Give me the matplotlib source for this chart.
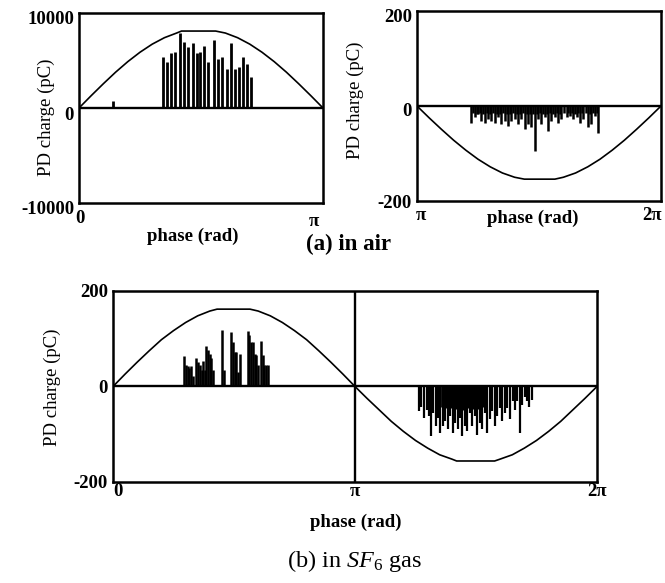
import numpy as np
import matplotlib
matplotlib.use("Agg")
import matplotlib.pyplot as plt
from matplotlib.transforms import ScaledTranslation

plt.rcParams.update({
    "font.family": ["Liberation Serif", "DejaVu Serif"],
    "mathtext.fontset": "custom",
    "mathtext.rm": "Liberation Serif",
    "mathtext.it": "Liberation Serif:italic",
    "mathtext.bf": "Liberation Serif:bold",
})

# ---------------------------------------------------------------------------
# Data (phase expressed in units of pi, charge in pC)
# ---------------------------------------------------------------------------
# (a) air, positive half-cycle: applied-voltage reference and PD pulses
air_pos_wave_phase = [0, .05, .1, .15, .2, .25, .3, .35, .4, .42, .56, .6, .65, .7, .75, .8, .85, .9, .95, 1]
air_pos_wave_q = [0, 1300, 2560, 3770, 4880, 5870, 6720, 7400, 7890, 8100, 8100, 7890, 7400, 6720,
                  5870, 4880, 3770, 2560, 1300, 0]
air_pos_phase = [0.141, 0.343, 0.359, 0.376, 0.392, 0.414, 0.430, 0.448, 0.466, 0.482, 0.496, 0.512,
                 0.530, 0.555, 0.571, 0.585, 0.605, 0.623, 0.639, 0.657, 0.671, 0.687, 0.704]
air_pos_q = [780, 5320, 4860, 5740, 5920, 7870, 6990, 6450, 6810, 5740, 5920, 6520,
             4860, 7160, 5210, 5390, 4150, 6810, 4150, 4330, 5390, 4680, 3260]

# (a) air, negative half-cycle
air_neg_wave_phase = [1, 1.05, 1.1, 1.15, 1.2, 1.25, 1.3, 1.35, 1.4, 1.44, 1.565, 1.6, 1.65, 1.7,
                      1.75, 1.8, 1.85, 1.9, 1.95, 2]
air_neg_wave_q = [0, -25, -49, -72, -93, -112, -128, -141, -150, -154, -154, -150, -141, -128,
                  -112, -93, -72, -49, -25, 0]
air_neg_phase = [1.223, 1.237, 1.250, 1.264, 1.278, 1.291, 1.305, 1.319, 1.332, 1.346, 1.360, 1.373,
                 1.387, 1.401, 1.414, 1.428, 1.442, 1.456, 1.469, 1.483, 1.497, 1.510, 1.524, 1.538,
                 1.551, 1.565, 1.579, 1.592, 1.613, 1.627, 1.640, 1.654, 1.668, 1.681, 1.702, 1.715,
                 1.729, 1.743]
air_neg_q = [-35, -24, -17, -31, -35, -28, -31, -35, -24, -38, -31, -42,
             -31, -28, -38, -28, -49, -38, -45, -94, -28, -38, -24, -52,
             -31, -24, -35, -28, -24, -21, -28, -24, -35, -28, -45, -38,
             -21, -56]
air_neg_small_phase = [1.230, 1.244, 1.257, 1.271, 1.285, 1.298, 1.312, 1.326, 1.339, 1.353, 1.367,
                       1.380, 1.394, 1.408, 1.421, 1.435, 1.449, 1.463, 1.476, 1.490, 1.504, 1.517,
                       1.531, 1.545, 1.558, 1.572, 1.586, 1.602, 1.620, 1.634, 1.647, 1.661, 1.675,
                       1.691, 1.709, 1.722, 1.736]
air_neg_small_q = [-15, -16, -14, -17, -15, -16, -15, -17, -16, -15, -17, -16, -15, -17, -16, -15,
                   -17, -16, -17, -16, -15, -17, -16, -15, -16, -14, -16, -15, -14, -15, -16, -15,
                   -14, -15, -16, -14, -15]

# (b) SF6, positive half-cycle
sf6_pos_wave_phase = [0, .05, .1, .15, .2, .25, .3, .35, .4, .43, .566, .6, .65, .7, .75, .8, .85, .9, .95, 1]
sf6_pos_wave_q = [0, 26, 51, 75, 98, 117, 134, 148, 158, 162, 162, 158, 148, 134, 117, 98, 75, 51, 26, 0]
sf6_pos_phase = [0.295, 0.301, 0.308, 0.315, 0.322, 0.329, 0.345, 0.352, 0.359, 0.366, 0.373, 0.379,
                 0.386, 0.393, 0.400, 0.407, 0.414, 0.452, 0.459, 0.489, 0.496, 0.503, 0.510, 0.516,
                 0.523, 0.558, 0.564, 0.571, 0.578, 0.585, 0.592, 0.599, 0.612, 0.619, 0.626, 0.633,
                 0.640]
sf6_pos_q = [64, 45, 42, 38, 42, 22, 59, 52, 45, 35, 54, 35,
             85, 76, 68, 59, 35, 118, 35, 115, 94, 73, 73, 31,
             69, 117, 108, 94, 94, 69, 66, 45, 95, 66, 45, 45,
             45]

# (b) SF6, negative half-cycle
sf6_neg_wave_phase = [1, 1.05, 1.1, 1.15, 1.2, 1.25, 1.3, 1.35, 1.4, 1.42, 1.577, 1.6, 1.65, 1.7,
                      1.75, 1.8, 1.85, 1.9, 1.95, 2]
sf6_neg_wave_q = [0, -25, -49, -73, -94, -113, -129, -143, -152, -156, -156, -152, -143, -129,
                  -113, -94, -73, -49, -25, 0]
sf6_neg_phase = [1.263, 1.273, 1.287, 1.298, 1.307, 1.314, 1.324, 1.335, 1.345, 1.353, 1.363, 1.373,
                 1.384, 1.393, 1.404, 1.414, 1.425, 1.435, 1.443, 1.453, 1.463, 1.474, 1.483, 1.494,
                 1.504, 1.515, 1.525, 1.536, 1.546, 1.557, 1.566, 1.578, 1.587, 1.598, 1.609, 1.619,
                 1.630, 1.640, 1.651, 1.661, 1.670, 1.681, 1.691, 1.702, 1.712, 1.720, 1.730]
sf6_neg_q = [-52, -42, -66, -49, -62, -104, -56, -83, -66, -97, -83, -73,
             -90, -62, -97, -76, -90, -66, -104, -83, -94, -56, -83, -62,
             -101, -76, -90, -56, -97, -69, -52, -83, -62, -45, -73, -56,
             -45, -69, -31, -49, -31, -97, -38, -21, -31, -42, -28]
sf6_neg_dense_phase = [1.358, 1.368, 1.378, 1.389, 1.398, 1.409, 1.419, 1.430, 1.439, 1.448, 1.458,
                       1.468, 1.479, 1.488, 1.499, 1.509, 1.520, 1.530, 1.541]
sf6_neg_dense_q = [-42, -45, -44, -48, -46, -50, -47, -45, -52, -49, -47, -44, -46, -48, -45, -47,
                   -44, -43, -40]

PANEL_FONT = dict(fontsize=13.5, fontweight="bold")
YLABEL = "PD charge (pC)"
XLABEL = "phase (rad)"

# ---------------------------------------------------------------------------
# Figure layout
# ---------------------------------------------------------------------------
W, H = 665, 583
fig = plt.figure(figsize=(W / 100, H / 100), dpi=100)


def box(left, top, right, bottom):
    return [left / W, 1 - bottom / H, (right - left) / W, (bottom - top) / H]


ax1 = fig.add_axes(box(79, 13, 323, 203))
ax2 = fig.add_axes(box(417, 11, 661, 201))
ax3 = fig.add_axes(box(113, 291, 597, 482))


def shift(label, dx, dy):
    """Move a text object by dx, dy pixels (dy positive = down)."""
    label.set_transform(label.get_transform() +
                        ScaledTranslation(dx / 100, -dy / 100, fig.dpi_scale_trans))


def style(ax, xlim, ylim):
    ax.set_xlim(*xlim)
    ax.set_ylim(-ylim, ylim)
    for sp in ax.spines.values():
        sp.set_linewidth(1.8)
    ax.axhline(0, color="black", lw=1.7, zorder=3)
    ax.tick_params(length=0)


# (a) air, positive half-cycle
style(ax1, (0, 1), 10000)
ax1.plot(air_pos_wave_phase, air_pos_wave_q, color="black", lw=1.2)
ax1.vlines(air_pos_phase, 0, air_pos_q, colors="black", lw=2.0)
ax1.set_yticks([-10000, 0, 10000], ["-10000", "0", "10000"], **PANEL_FONT)
ax1.set_xticks([0, 1], ["0", "π"], **PANEL_FONT)
ax1.tick_params(axis="y", pad=3.6)
ax1.tick_params(axis="x", pad=5)
for lab in ax1.get_yticklabels():
    shift(lab, 0, 5)
xl = ax1.get_xticklabels()
shift(xl[0], 1, 0)
shift(xl[1], -9, 3)
ax1.text(-0.135, 0.453, YLABEL, transform=ax1.transAxes, rotation=90,
         ha="center", va="center", fontsize=13.5)
ax1.text(0.467, -0.174, XLABEL, transform=ax1.transAxes, ha="center", va="center", **PANEL_FONT)

# (a) air, negative half-cycle
style(ax2, (1, 2), 200)
ax2.plot(air_neg_wave_phase, air_neg_wave_q, color="black", lw=1.2)
ax2.vlines(air_neg_small_phase, 0, air_neg_small_q, colors="black", lw=1.8)
ax2.vlines(air_neg_phase, 0, air_neg_q, colors="black", lw=1.8)
ax2.set_yticks([-200, 0, 200], ["-200", "0", "200"], **PANEL_FONT)
ax2.set_xticks([1, 2], ["π", "2π"], **PANEL_FONT)
ax2.tick_params(axis="y", pad=3.6)
ax2.tick_params(axis="x", pad=4)
for lab, dy in zip(ax2.get_yticklabels(), [1, 3, 4]):
    shift(lab, 0, dy)
xl = ax2.get_xticklabels()
shift(xl[0], 4, 0)
shift(xl[1], -9, 0)
ax2.text(-0.254, 0.532, YLABEL, transform=ax2.transAxes, rotation=90,
         ha="center", va="center", fontsize=13.5)
ax2.text(0.475, -0.089, XLABEL, transform=ax2.transAxes, ha="center", va="center", **PANEL_FONT)

# (b) SF6, full cycle
style(ax3, (0, 2), 200)
ax3.axvline(1, color="black", lw=1.7, zorder=3)
ax3.plot(sf6_pos_wave_phase, sf6_pos_wave_q, color="black", lw=1.2)
ax3.plot(sf6_neg_wave_phase, sf6_neg_wave_q, color="black", lw=1.2)
ax3.vlines(sf6_pos_phase, 0, sf6_pos_q, colors="black", lw=1.8)
ax3.vlines(sf6_neg_dense_phase, 0, sf6_neg_dense_q, colors="black", lw=2.0)
ax3.vlines(sf6_neg_phase, 0, sf6_neg_q, colors="black", lw=1.6)
ax3.set_yticks([-200, 0, 200], ["-200", "0", "200"], **PANEL_FONT)
ax3.set_xticks([0, 1, 2], ["0", "π", "2π"], **PANEL_FONT)
ax3.tick_params(axis="y", pad=3.6)
ax3.tick_params(axis="x", pad=1)
shift(ax3.get_xticklabels()[0], 5, 0)
ax3.text(-0.126, 0.497, YLABEL, transform=ax3.transAxes, rotation=90,
         ha="center", va="center", fontsize=13.5)
ax3.text(0.502, -0.209, XLABEL, transform=ax3.transAxes, ha="center", va="center", **PANEL_FONT)

# Captions
fig.text(348 / W, 1 - 244 / H, "(a) in air", ha="center", va="center",
         fontsize=16.5, fontweight="bold")
fig.text(354 / W, 1 - 561 / H, r"(b) in $\mathit{SF}_\mathrm{6}$ gas", ha="center", va="center",
         fontsize=17.5)

fig.savefig("out.png", dpi=100)
